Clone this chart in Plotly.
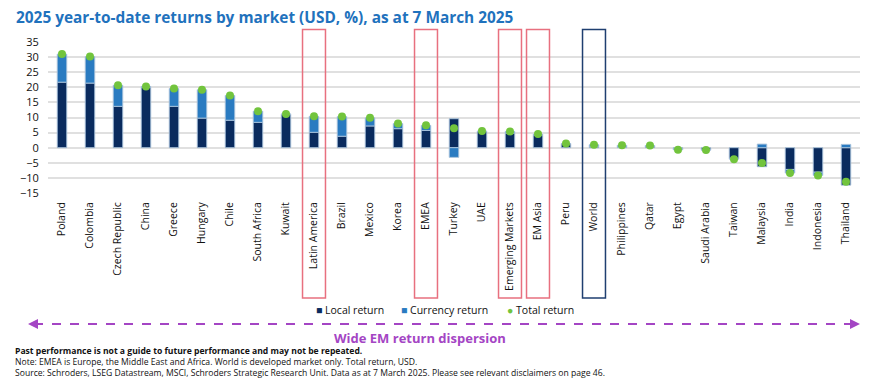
import plotly.graph_objects as go

categories = ["Poland", "Colombia", "Czech Republic", "China", "Greece", "Hungary", "Chile",
              "South Africa", "Kuwait", "Latin America", "Brazil", "Mexico", "Korea", "EMEA",
              "Turkey", "UAE", "Emerging Markets", "EM Asia", "Peru", "World", "Philippines",
              "Qatar", "Egypt", "Saudi Arabia", "Taiwan", "Malaysia", "India", "Indonesia", "Thailand"]
local_return = [21.7, 21.4, 13.7, 20.0, 13.7, 9.8, 9.1, 8.4, 11.0, 5.1, 3.8, 7.2, 6.3, 5.7,
                9.6, 5.4, 4.8, 4.2, 1.3, 0.4, 0.2, 0.5, -0.4, -0.7, -3.5, -6.3, -7.2, -8.1, -12.4]
currency_return = [9.3, 8.8, 7.0, 0.3, 5.9, 9.4, 8.2, 3.7, 0.2, 5.3, 6.5, 2.7, 1.7, 1.7,
                   -3.2, 0.1, 0.6, 0.3, 0.1, 0.6, 0.6, 0.2, -0.3, -0.1, -0.3, 1.2, -1.2, -1.1, 1.1]
total_return = [31.0, 30.2, 20.7, 20.3, 19.6, 19.2, 17.3, 12.1, 11.2, 10.4, 10.3, 9.9, 8.0, 7.4,
                6.4, 5.5, 5.4, 4.5, 1.4, 1.0, 0.8, 0.7, -0.7, -0.8, -3.8, -5.1, -8.4, -9.2, -11.3]
y_ticks = [-15, -10, -5, 0, 5, 10, 15, 20, 25, 30, 35]
series_names = ["Local return", "Currency return", "Total return"]
em_highlight = ["Latin America", "EMEA", "Emerging Markets", "EM Asia"]
dm_highlight = ["World"]

NAVY = "#0a2b5e"
BLUE = "#2a7bc1"
GREEN = "#72c43d"
TITLE_BLUE = "#1f72bd"
PINK = "#e8707f"
PURPLE = "#a445c4"

W, H = 883, 379
L, R, T, B = 48, 23, 42, 186
PW, PH = W - L - R, H - T - B


def px(p):
    return (p - L) / PW


def py(p):
    return (H - B - p) / PH


fig = go.Figure()
edge = dict(color="rgba(170,195,220,0.9)", width=1)
fig.add_trace(go.Bar(x=categories, y=local_return, name=series_names[0],
                     marker=dict(color=NAVY, line=edge)))
fig.add_trace(go.Bar(x=categories, y=currency_return, name=series_names[1],
                     marker=dict(color=BLUE, line=edge)))
fig.add_trace(go.Scatter(x=categories, y=total_return, name=series_names[2], mode="markers",
                         marker=dict(color=GREEN, size=8)))

shapes = []
for c in em_highlight + dm_highlight:
    i = categories.index(c)
    col = PINK if c in em_highlight else "#1f3f70"
    shapes.append(dict(type="rect", xref="x", yref="paper", x0=i - 0.41, x1=i + 0.41,
                       y0=py(298), y1=py(29.5), line=dict(color=col, width=1.5),
                       fillcolor="rgba(0,0,0,0)", layer="above"))
shapes.append(dict(type="line", xref="paper", yref="paper", x0=px(34), x1=px(854),
                   y0=py(324), y1=py(324), line=dict(color=PURPLE, width=2, dash="dash")))

foot = dict(xref="paper", yref="paper", xanchor="left", yanchor="middle", showarrow=False)
footnote = ("<b>Past performance is not a guide to future performance and may not be repeated.</b><br>"
            "Note: EMEA is Europe, the Middle East and Africa. World is developed market only. Total return, USD.<br>"
            "Source: Schroders, LSEG Datastream, MSCI, Schroders Strategic Research Unit. "
            "Data as at 7 March 2025. Please see relevant disclaimers on page 46.")
annotations = [
    dict(text="<b>2025 year-to-date returns by market (USD, %), as at 7 March 2025</b>",
         xref="paper", yref="paper", x=px(14), y=py(17), xanchor="left", yanchor="middle",
         showarrow=False, font=dict(size=15.4, color=TITLE_BLUE, family="Open Sans")),
    dict(text="<b>Wide EM return dispersion</b>", xref="paper", yref="paper",
         x=px(420), y=py(338), xanchor="center", yanchor="middle", showarrow=False,
         font=dict(size=13, color=PURPLE, family="Open Sans")),
    dict(text=footnote, xref="paper", yref="paper", x=px(14), y=py(379.5), xanchor="left",
         yanchor="bottom", align="left", showarrow=False, borderpad=0,
         font=dict(size=8.6, color="#111", family="Open Sans")),
    dict(text="", xref="paper", yref="paper", x=px(28), y=py(324), ax=12, ay=0,
         showarrow=True, arrowhead=2, arrowsize=1, arrowwidth=2, arrowcolor=PURPLE),
    dict(text="", xref="paper", yref="paper", x=px(860), y=py(324), ax=-12, ay=0,
         showarrow=True, arrowhead=2, arrowsize=1, arrowwidth=2, arrowcolor=PURPLE),
]

# custom compact legend
legend_items = [(series_names[0], NAVY, "■", 314), (series_names[1], BLUE, "■", 399),
                (series_names[2], GREEN, "●", 505)]
for name, col, sym, xpos in legend_items:
    annotations.append(dict(
        text=f"<span style='color:{col}'>{sym}</span> {name}", x=px(xpos), y=py(309.5),
        font=dict(size=10.5, color="#111", family="Open Sans"), **foot))

fig.update_layout(
    width=W, height=H, margin=dict(l=L, r=R, t=T, b=B, autoexpand=False),
    barmode="relative", bargap=0.66,
    plot_bgcolor="white", paper_bgcolor="white",
    font=dict(family="Open Sans", color="#222"),
    showlegend=False,
    shapes=shapes, annotations=annotations,
    xaxis=dict(type="category", tickangle=-90, tickfont=dict(size=10.5, color="#111"),
               showgrid=False, ticks="outside", ticklen=4, tickcolor="rgba(0,0,0,0)",
               showline=False, zeroline=False, range=[-0.5, len(categories) - 0.5],
               automargin=False),
    yaxis=dict(range=[-15, 35], tickvals=y_ticks, tickfont=dict(size=11, color="#111"),
               showgrid=True, gridcolor="#e0e0e0", gridwidth=1.5, zeroline=True,
               zerolinecolor="#e0e0e0", zerolinewidth=1.5, ticks="outside", ticklen=6,
               tickcolor="rgba(0,0,0,0)", showline=False, automargin=False),
)

fig.write_html("out.html", config={"displayModeBar": False},
               post_script="document.body.style.margin='0';")
